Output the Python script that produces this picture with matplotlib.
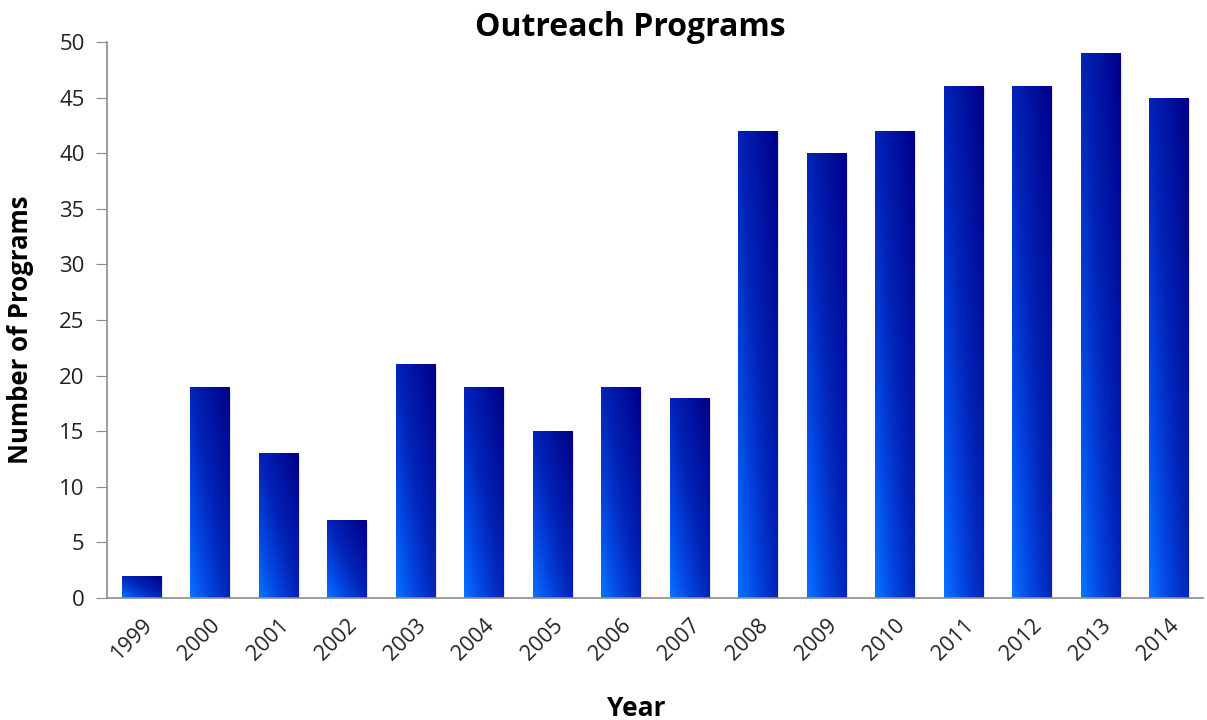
import numpy as np
import matplotlib
matplotlib.use("Agg")
from matplotlib import pyplot as plt
from matplotlib.colors import LinearSegmentedColormap

# data
years = ['1999', '2000', '2001', '2002', '2003', '2004', '2005', '2006',
         '2007', '2008', '2009', '2010', '2011', '2012', '2013', '2014']
programs = [2, 19, 13, 7, 21, 19, 15, 19, 18, 42, 40, 42, 46, 46, 49, 45]

plt.rcParams['font.family'] = ['Open Sans', 'DejaVu Sans']

fig = plt.figure(figsize=(12.07, 7.2), dpi=100)
ax = fig.add_axes([0.0886, 0.1694, 0.908, 0.7723])

x = np.arange(len(years))
bars = ax.bar(x, programs, width=0.57, color='none', edgecolor='none', zorder=2)

# diagonal gradient in bar coordinates: light blue bottom-left -> navy top-right
cmap = LinearSegmentedColormap.from_list(
    'blu', [(0.0, '#0a72ff'), (0.25, '#0345e0'), (0.5, '#0224b8'), (1.0, '#000088')])
gx, gy = np.meshgrid(np.linspace(0, 1, 60), np.linspace(0, 1, 200))
grad = (gx + gy) / 2
for b in bars:
    x0, w, h = b.get_x(), b.get_width(), b.get_height()
    # soft shadow
    ax.bar(x0 + w / 2 + 0.03, h, width=w, bottom=-0.15, color='#000000',
           alpha=0.10, zorder=1, edgecolor='none')
    im = ax.imshow(grad, cmap=cmap, origin='lower', aspect='auto',
                   extent=(x0, x0 + w, 0, h), zorder=2, vmin=0, vmax=1)
    im.set_clip_path(b)

ax.set_xlim(-0.5, len(years) - 0.5)
ax.set_ylim(0, 50)
ax.set_yticks(range(0, 51, 5))
ax.set_xticks(x)
ax.set_xticklabels(years, rotation=45, ha='right', rotation_mode='anchor')

for s in ['top', 'right']:
    ax.spines[s].set_visible(False)
for s in ['left', 'bottom']:
    ax.spines[s].set_color('#8c8c8c')
    ax.spines[s].set_linewidth(1.2)
ax.tick_params(axis='y', length=8, color='#8c8c8c', labelsize=16,
               labelcolor='#222222', pad=8)
ax.tick_params(axis='x', length=0, labelsize=15.5, labelcolor='#222222', pad=12)

fig.text(0.522, 0.962, 'Outreach Programs', fontsize=23, fontweight='bold',
         ha='center', va='center')
ax.set_xlabel('Year', fontsize=19, fontweight='bold')
ax.xaxis.set_label_coords(0.483, -0.175)
ax.set_ylabel('Number of Programs', fontsize=18.5, fontweight='bold')
ax.yaxis.set_label_coords(-0.0665, 0.482)

fig.savefig('out.png', dpi=100)
